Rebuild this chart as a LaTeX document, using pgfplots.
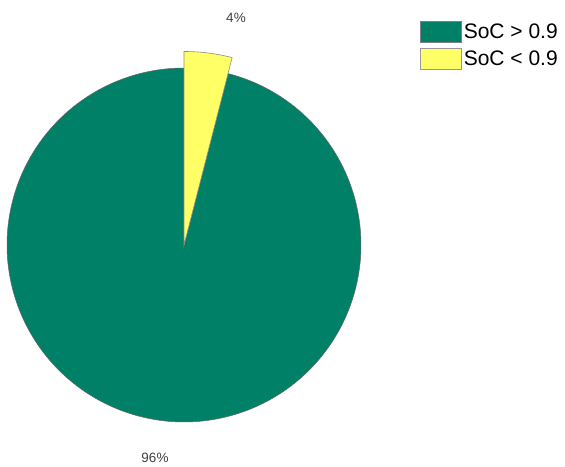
\documentclass[border=0pt]{standalone}
\usepackage{fontspec}
\setmainfont{Liberation Sans}
\usepackage{pgfplots}
\pgfplotsset{compat=1.18}
\definecolor{socgreen}{RGB}{0,128,102}
\definecolor{socyellow}{RGB}{255,255,102}
\def\valA{96}
\def\valB{4}
\begin{document}
\begin{tikzpicture}
\begin{axis}[
  width=565pt, height=466pt, scale only axis,
  xmin=0, xmax=565, ymin=0, ymax=466,
  axis lines=none, clip=false,
  legend style={at={(axis cs:417,447)}, anchor=north west, draw=none, fill=none,
    font=\fontsize{21}{24}\selectfont, row sep=5pt,
    /tikz/every even column/.append style={column sep=1pt}},
  legend cell align=left,
]
\path (axis cs:0,0) rectangle (axis cs:565,466);
\pgfmathsetmacro{\angG}{90+3.6*\valA}
\pgfmathsetmacro{\angY}{90-3.6*\valB}
\addplot[fill=socgreen, draw=black!60, line width=0.5pt, domain=90:\angG, samples=240, variable=\t,
  area legend, legend image code/.code={\draw[fill=socgreen, draw=black!50] (0pt,-10.5pt) rectangle (41pt,10.5pt);}]
  ({184+177*cos(t)}, {221+177*sin(t)}) -- (184,221) -- cycle;
\addlegendentry{SoC > 0.9}
\addplot[fill=socyellow, draw=black!45, line width=0.6pt, domain=\angY:90, samples=30, variable=\t,
  area legend, legend image code/.code={\draw[fill=socyellow, draw=black!40] (0pt,-10.5pt) rectangle (41pt,10.5pt);}]
  ({184+193.5*cos(t)}, {221+193.5*sin(t)}) -- (184,221) -- cycle;
\addlegendentry{SoC < 0.9}
\node[text=black!75, font=\fontsize{13.5}{15}\selectfont] at (axis cs:236,448) {\valB\%};
\node[text=black!75, font=\fontsize{13.5}{15}\selectfont] at (axis cs:155,8) {\valA\%};
\end{axis}
\end{tikzpicture}
\end{document}
